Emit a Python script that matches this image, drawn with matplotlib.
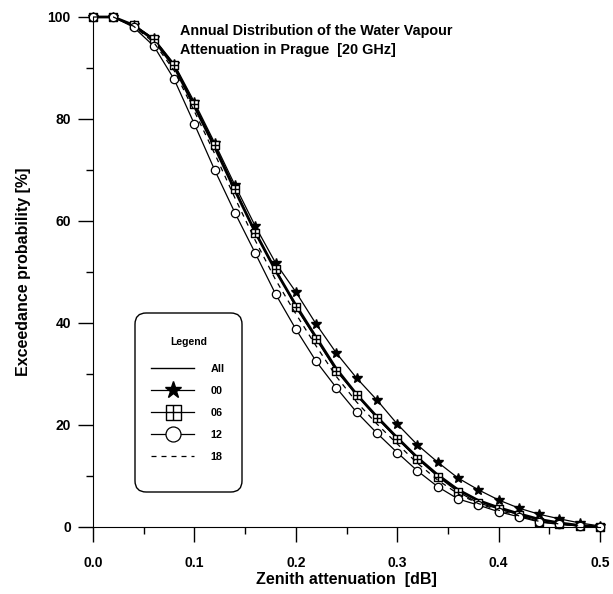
import numpy as np
import matplotlib
matplotlib.use("Agg")
import matplotlib.pyplot as plt
from matplotlib.path import Path
from matplotlib.patches import FancyBboxPatch
from matplotlib.ticker import MultipleLocator, FormatStrFormatter

plt.rcParams['font.family'] = ['Liberation Sans', 'DejaVu Sans']
plt.rcParams['font.weight'] = 'bold'

# zenith attenuation [dB], sampled every 0.02 dB
atten = [0.00, 0.02, 0.04, 0.06, 0.08, 0.10, 0.12, 0.14, 0.16, 0.18, 0.20, 0.22, 0.24,
         0.26, 0.28, 0.30, 0.32, 0.34, 0.36, 0.38, 0.40, 0.42, 0.44, 0.46, 0.48, 0.50]

# exceedance probability [%] per launch hour
p_all = [100, 100, 98.4, 95.5, 90.3, 82.5, 74.5, 66.0, 57.8, 50.3, 43.5, 37.2, 31.0,
         26.0, 21.6, 17.5, 13.6, 10.2, 7.3, 5.2, 3.8, 2.6, 1.5, 0.8, 0.3, 0.0]
p_00 = [100, 100, 98.4, 95.8, 90.8, 83.3, 75.3, 67.0, 59.0, 51.8, 46.1, 39.8, 34.1,
        29.2, 24.9, 20.2, 16.1, 12.7, 9.6, 7.3, 5.3, 3.7, 2.5, 1.6, 0.8, 0.2]
p_06 = [100, 100, 98.4, 95.7, 90.6, 82.9, 74.9, 66.3, 57.6, 50.6, 43.1, 36.9, 30.6,
        25.9, 21.4, 17.3, 13.4, 9.9, 6.9, 4.7, 3.6, 2.4, 1.0, 0.6, 0.2, 0.0]
p_12 = [100, 100, 98.0, 94.3, 87.8, 79.0, 70.0, 61.6, 53.7, 45.7, 38.8, 32.5, 27.3,
        22.5, 18.4, 14.6, 11.0, 7.9, 5.5, 4.3, 3.0, 2.0, 1.0, 0.5, 0.2, 0.0]
p_18 = [100, 100, 98.2, 95.0, 89.5, 81.5, 73.2, 64.5, 56.2, 48.5, 41.8, 35.5, 29.5,
        24.5, 20.2, 16.3, 12.5, 9.2, 6.5, 4.6, 3.3, 2.2, 1.1, 0.6, 0.2, 0.0]

# square with a cross inside
sq_cross = Path([(-1, -1), (1, -1), (1, 1), (-1, 1), (-1, -1),
                 (0, -1), (0, 1), (-1, 0), (1, 0)],
                [Path.MOVETO, Path.LINETO, Path.LINETO, Path.LINETO, Path.CLOSEPOLY,
                 Path.MOVETO, Path.LINETO, Path.MOVETO, Path.LINETO])

fig = plt.figure(figsize=(6.13, 5.94), dpi=100)
ax = fig.add_axes([93 / 613, 1 - 527 / 594, 507 / 613, 510 / 594])

ax.plot(atten, p_all, color='black', lw=2.0, label='All', clip_on=False)
ax.plot(atten, p_00, color='black', lw=0.9, marker='*', ms=7, label='00', clip_on=False)
ax.plot(atten, p_06, color='black', lw=0.9, marker=sq_cross, ms=6, mfc='white',
        mew=1.0, label='06', clip_on=False)
ax.plot(atten, p_12, color='black', lw=0.9, marker='o', ms=6, mfc='white',
        mew=0.9, label='12', clip_on=False)
ax.plot(atten, p_18, color='black', lw=0.9, ls=(0, (4, 4)), label='18', clip_on=False)

ax.set_xlim(0, 0.5)
ax.set_ylim(0, 100)
ax.spines['top'].set_visible(False)
ax.spines['right'].set_visible(False)
ax.xaxis.set_major_locator(MultipleLocator(0.1))
ax.xaxis.set_minor_locator(MultipleLocator(0.05))
ax.xaxis.set_major_formatter(FormatStrFormatter('%.1f'))
ax.yaxis.set_major_locator(MultipleLocator(20))
ax.yaxis.set_minor_locator(MultipleLocator(10))
ax.tick_params(which='major', length=11, width=1, labelsize=10)
ax.tick_params(axis='x', which='major', pad=10)
ax.tick_params(axis='y', which='major', pad=5)
ax.tick_params(which='minor', length=5, width=1)

ax.set_xlabel('Zenith attenuation  [dB]', fontsize=11.5, fontweight='bold', labelpad=1.5)
ax.set_ylabel('Exceedance probability [%]', fontsize=11.5, fontweight='bold', labelpad=12)

ax.text(0.086, 98.7, 'Annual Distribution of the Water Vapour\nAttenuation in Prague  [20 GHz]',
        fontsize=10.4, fontweight='bold', va='top', ha='left', linespacing=1.45)

# legend: rounded box, title and entries placed separately
box = FancyBboxPatch((42 / 507, 35 / 510), 107 / 507, 179 / 510,
                     boxstyle='round,pad=0,rounding_size=0.022', transform=ax.transAxes,
                     facecolor='white', edgecolor='black', lw=1.0, zorder=5)
ax.add_patch(box)
ax.text(95.5 / 507, 185 / 510, 'Legend', transform=ax.transAxes, ha='center', va='center',
        fontsize=7.5, fontweight='bold', zorder=6)
leg = ax.legend(loc='upper left', bbox_to_anchor=(58 / 507, 163 / 510),
                fontsize=7.8, frameon=False, handlelength=4.0, markerscale=1.8,
                labelspacing=1.1, borderpad=0, handletextpad=1.5, borderaxespad=0)
leg.set_zorder(6)
leg.get_lines()[0].set_linewidth(1.0)
for t in leg.get_texts():
    t.set_fontweight('bold')

fig.savefig('out.png', dpi=100)
